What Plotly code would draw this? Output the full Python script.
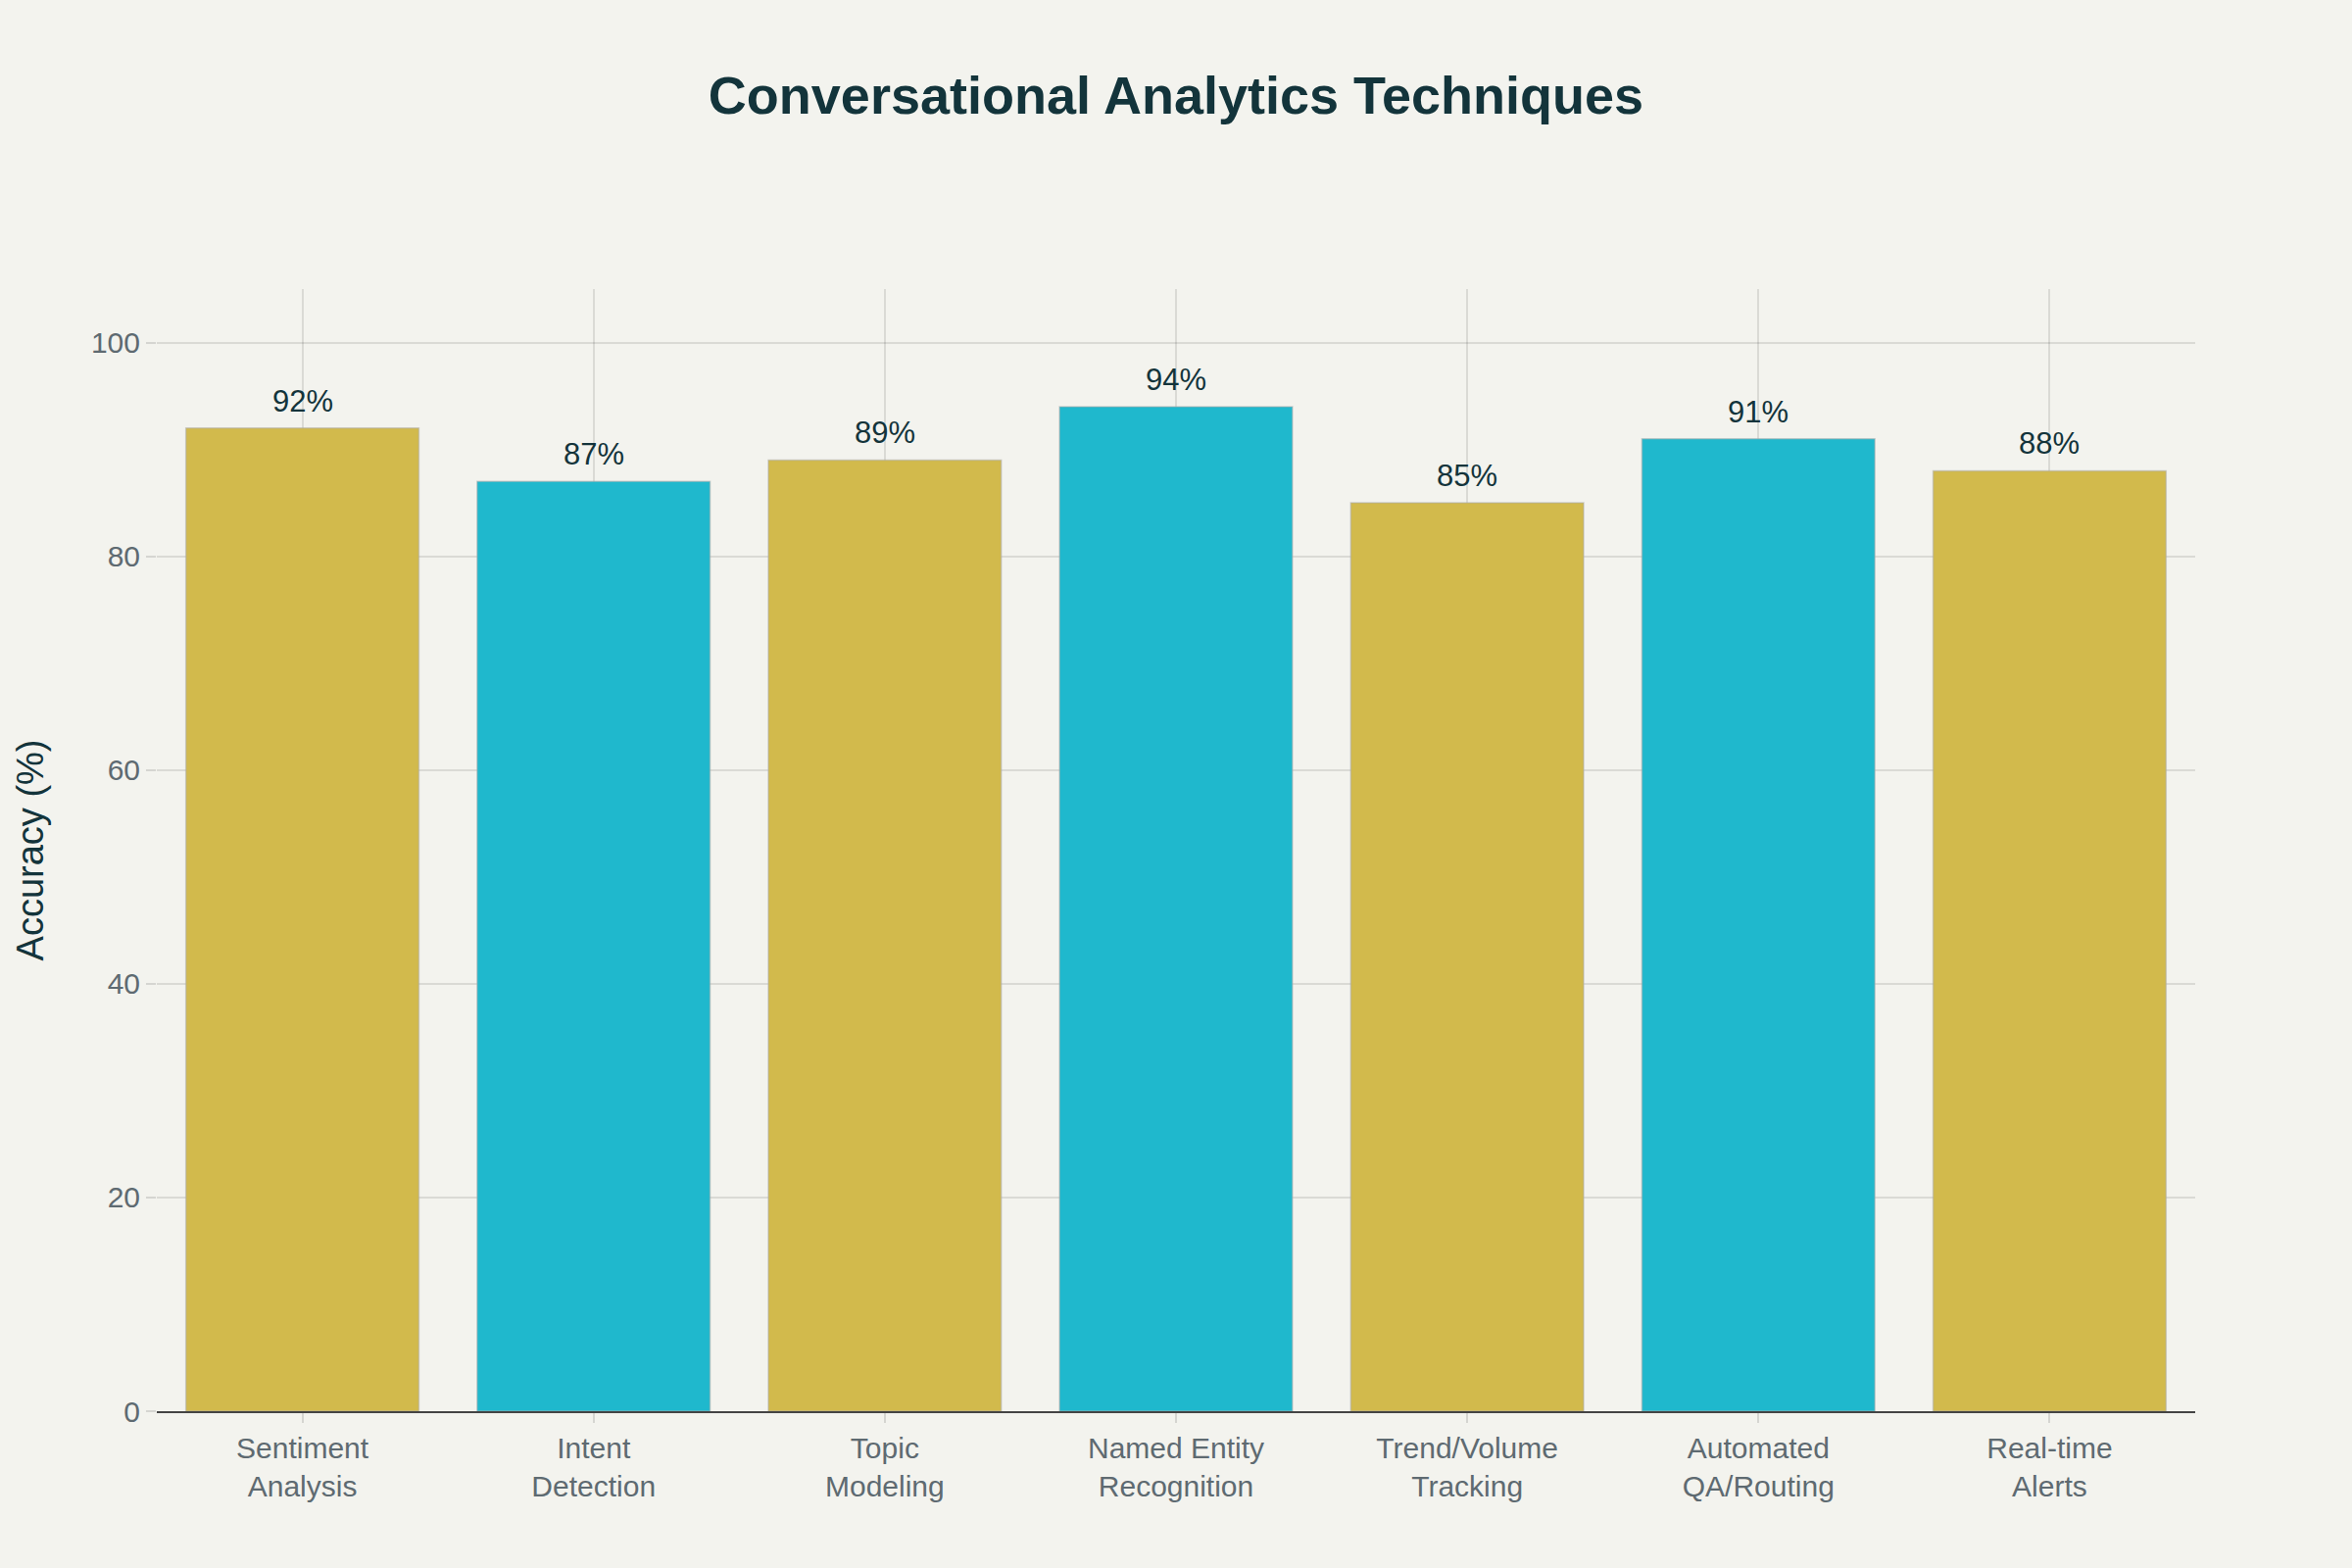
import plotly.graph_objects as go

categories = ["Sentiment<br>Analysis", "Intent<br>Detection", "Topic<br>Modeling",
              "Named Entity<br>Recognition", "Trend/Volume<br>Tracking",
              "Automated<br>QA/Routing", "Real-time<br>Alerts"]
accuracy = [92, 87, 89, 94, 85, 91, 88]
bar_colors = ["#D2BA4C", "#1FB8CD", "#D2BA4C", "#1FB8CD", "#D2BA4C", "#1FB8CD", "#D2BA4C"]
y_ticks = [0, 20, 40, 60, 80, 100]

FONT = "Liberation Sans, Arial, sans-serif"

fig = go.Figure(go.Bar(
    x=categories,
    y=accuracy,
    marker=dict(color=bar_colors, line=dict(color="rgba(170,170,170,0.5)", width=1.5)),
    cliponaxis=False,
))

for c, v in zip(categories, accuracy):
    fig.add_annotation(x=c, y=v, text=f"{v}%", showarrow=False, yanchor="bottom",
                       yshift=8, font=dict(size=31, color="#13343B", family=FONT))

fig.update_layout(
    width=2400, height=1600,
    paper_bgcolor="#F3F3EE", plot_bgcolor="#F3F3EE",
    margin=dict(l=160, r=160, t=295, b=160),
    bargap=0.2,
    showlegend=False,
    title=dict(text="<b>Conversational Analytics Techniques</b>", x=0.5, xanchor="center",
               y=1 - 97 / 1600, yanchor="middle",
               font=dict(size=54, color="#13343B", family=FONT)),
    font=dict(family=FONT),
)

fig.update_xaxes(
    showgrid=True, gridcolor="rgba(0,0,0,0.1)", gridwidth=2,
    showline=True, linecolor="#444444", linewidth=2,
    ticks="outside", tickcolor="rgba(0,0,0,0.12)", ticklen=10, tickwidth=2,
    tickfont=dict(size=30, color="#5E6A71", family=FONT),
)
fig.update_yaxes(
    range=[0, 105], tickvals=y_ticks,
    showgrid=True, gridcolor="rgba(0,0,0,0.1)", gridwidth=2,
    zeroline=False, showline=False,
    ticks="outside", tickcolor="rgba(0,0,0,0.12)", ticklen=10, tickwidth=2,
    tickfont=dict(size=30, color="#5E6A71", family=FONT),
    title=dict(text="Accuracy (%)", font=dict(size=38, color="#13343B", family=FONT), standoff=36),
)

fig.write_html("out.html")
